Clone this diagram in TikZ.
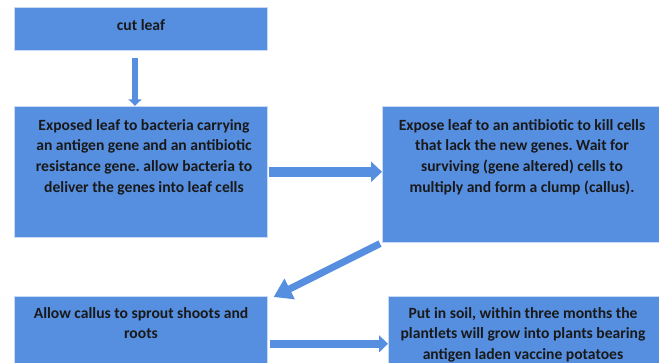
\documentclass[tikz,border=0pt]{standalone}
\usepackage{fontspec}
\setmainfont{Carlito}
\usetikzlibrary{arrows.meta}
\definecolor{boxblue}{RGB}{86,143,224}
\definecolor{edgeblue}{RGB}{200,218,245}
\definecolor{arrblue}{RGB}{86,143,224}
\frenchspacing
\tikzset{
  box/.style={rectangle, fill=boxblue, draw=edgeblue, line width=0.6pt, anchor=north west, inner sep=0pt},
  txt/.style={anchor=north, align=center, font=\fontsize{15.6}{20.7}\selectfont\bfseries, inner sep=0pt, text=black!90},
  blockarrow/.style={draw=arrblue, line width=#1, -{Triangle[width=1.8*#1+2pt, length=1.1*#1]}},
}
\begin{document}
\begin{tikzpicture}[x=1pt,y=-1pt]
\useasboundingbox (0,0) rectangle (659,362);
\node[box, minimum width=253pt, minimum height=43pt] (b1) at (14,7) {};
\node[box, minimum width=253pt, minimum height=131pt] (b2) at (14,106) {};
\node[box, minimum width=280pt, minimum height=136pt] (b3) at (382,106) {};
\node[box, minimum width=253pt, minimum height=75pt] (b4) at (14,296) {};
\node[box, minimum width=275pt, minimum height=75pt] (b5) at (388,296) {};

\node[txt] (t1) at (141,19) {cut leaf};
\node[txt] (t2) at (144,119) {Exposed leaf to bacteria carrying\\an antigen gene and an antibiotic\\resistance gene. allow bacteria to\\deliver the genes into leaf cells};
\node[txt] (t3) at (522,119) {Expose leaf to an antibiotic to kill cells\\that lack the new genes. Wait for\\surviving (gene altered) cells to\\multiply and form a clump (callus).};
\node[txt] (t4) at (141,307) {Allow callus to sprout shoots and\\roots};
\node[txt] (t5) at (523,307) {Put in soil, within three months the\\plantlets will grow into plants bearing\\antigen laden vaccine potatoes};

\draw[blockarrow=6pt] ([yshift=-7pt]b1.south -| 135,0) -- (b2.north -| 135,0);
\draw[blockarrow=10pt] ([xshift=1pt]b2.east) -- (b3.west |- b2.east);
\draw[blockarrow=7pt, -{Triangle[width=22pt,length=18pt]}] ([xshift=-2pt,yshift=-1pt]b3.south west) -- ([xshift=6pt,yshift=-1pt]b4.north east);
\draw[blockarrow=8pt] ([xshift=2pt,yshift=-10pt]b4.east) -- ([yshift=-10pt]b4.east -| b5.west);
\end{tikzpicture}
\end{document}
